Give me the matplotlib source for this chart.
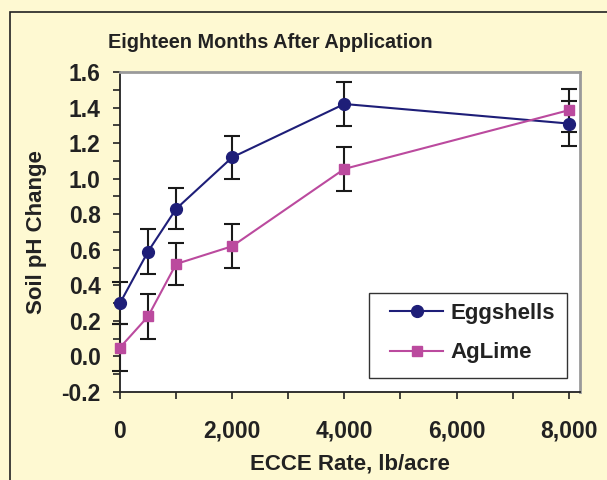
import matplotlib
matplotlib.use("Agg")
import matplotlib.pyplot as plt
from matplotlib.ticker import MultipleLocator, FuncFormatter
from matplotlib.patches import Rectangle

plt.rcParams['font.family'] = ['Liberation Sans', 'DejaVu Sans']
plt.rcParams['font.weight'] = 'bold'

rates = [0, 500, 1000, 2000, 4000, 8000]
eggshells = [0.30, 0.59, 0.83, 1.12, 1.42, 1.31]
eggshells_err = [0.12, 0.125, 0.115, 0.12, 0.125, 0.125]
aglime = [0.05, 0.225, 0.52, 0.62, 1.055, 1.385]
aglime_err = [0.13, 0.125, 0.12, 0.125, 0.125, 0.12]

title = "Eighteen Months After Application"
xlabel = "ECCE Rate, lb/acre"
ylabel = "Soil pH Change"

bg = '#FEF9D2'
navy = '#1E1E78'
magenta = '#BB4A9E'
txt = '#222222'

fig = plt.figure(figsize=(6.07, 4.8), dpi=100, facecolor=bg)
fig.patches.append(Rectangle((10/607, -0.1), 1.2, (480-12)/480 + 0.1,
                             transform=fig.transFigure, facecolor='none',
                             edgecolor=txt, linewidth=1.2, zorder=-1))
ax = fig.add_axes([120/607, 1-392/480, 460/607, 320/480])
ax.set_facecolor('white')

for y, e, c, m, ms, lab in [(eggshells, eggshells_err, navy, 'o', 8.5, 'Eggshells'),
                            (aglime, aglime_err, magenta, 's', 7.5, 'AgLime')]:
    ax.errorbar(rates, y, yerr=e, fmt='none', ecolor='#1a1a1a', elinewidth=1.5,
                capsize=5.5, capthick=1.5, zorder=2, clip_on=False)
    ax.plot(rates, y, color=c, marker=m, markersize=ms, linewidth=1.5,
            label=lab, zorder=3, clip_on=False)

ax.set_xlim(0, 8200)
ax.set_ylim(-0.2, 1.6)
ax.xaxis.set_major_locator(MultipleLocator(2000))
ax.xaxis.set_minor_locator(MultipleLocator(1000))
ax.yaxis.set_major_locator(MultipleLocator(0.2))
ax.yaxis.set_minor_locator(MultipleLocator(0.1))
ax.xaxis.set_major_formatter(FuncFormatter(lambda v, p: f"{int(v):,}"))
ax.yaxis.set_major_formatter(FuncFormatter(lambda v, p: f"{v:.1f}"))

ax.tick_params(axis='both', which='both', direction='out', length=5, width=1.2,
               color=txt)
ax.tick_params(axis='x', which='major', pad=15, labelsize=16.5, labelcolor=txt)
ax.tick_params(axis='y', which='major', pad=9, labelsize=16.5, labelcolor=txt)

for s in ['left', 'bottom']:
    ax.spines[s].set_color(txt)
    ax.spines[s].set_linewidth(1.3)
for s in ['top', 'right']:
    ax.spines[s].set_color('#9a9a9a')
    ax.spines[s].set_linewidth(2)

ax.set_xlabel(xlabel, fontsize=16, fontweight='bold', color=txt, labelpad=8)
ax.set_ylabel(ylabel, fontsize=16, fontweight='bold', color=txt, labelpad=10)
fig.text(270/607, 1-43/480, title, ha='center', va='center', fontsize=14.3,
         fontweight='bold', color=txt)

# legend frame and contents
ax.add_patch(Rectangle((249/460, 14/320), 198/460, 85/320, transform=ax.transAxes,
                       facecolor='white', edgecolor='#333333', linewidth=1.0,
                       zorder=4))
leg = ax.legend(loc='center left', bbox_to_anchor=(270/460, 59/320),
                fontsize=16, frameon=False, handlelength=2.4, labelspacing=0.85,
                borderpad=0, borderaxespad=0, handletextpad=0.3)
leg.set_zorder(5)
for t in leg.get_texts():
    t.set_color(txt)

fig.savefig('out.png', dpi=100, facecolor=bg)
